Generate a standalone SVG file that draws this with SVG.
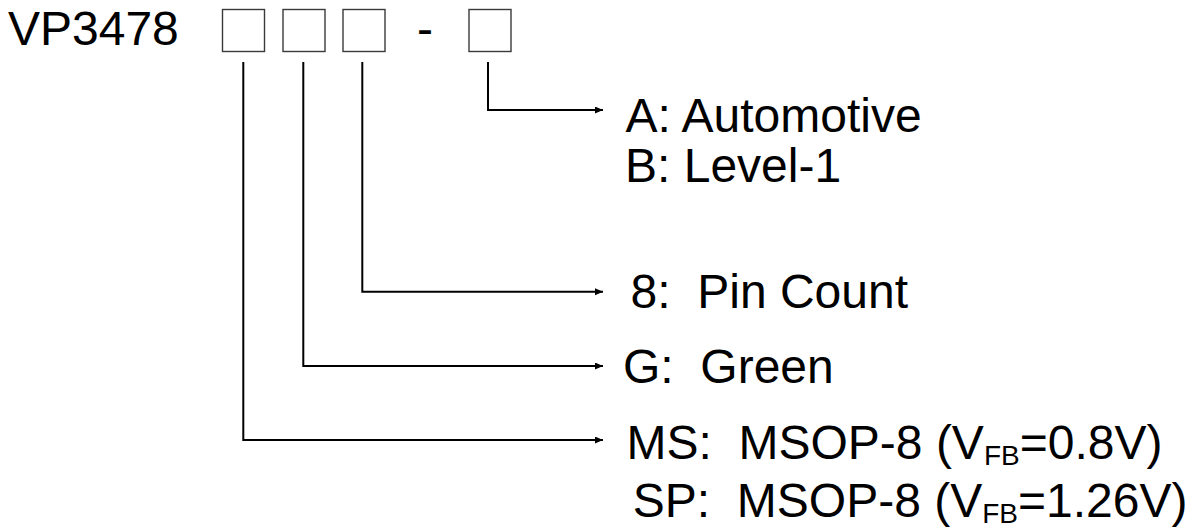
<svg xmlns="http://www.w3.org/2000/svg" width="1201" height="529" viewBox="0 0 1201 529">
<style>
  .t { font-family: "Liberation Sans", Arial, sans-serif; font-size: 48px; fill: #000; white-space: pre; }
  .sub { font-size: 28px; }
  .box { fill: #fff; stroke: #3a3a3a; stroke-width: 1.4; }
  .conn { fill: none; stroke: #000; stroke-width: 2; }
</style>
<defs>
  <marker id="arr" markerUnits="userSpaceOnUse" markerWidth="9" markerHeight="8" refX="8" refY="3.5" orient="auto">
    <path d="M0,0 L8,3.5 L0,7 z" fill="#000"/>
  </marker>
</defs>
<rect width="1201" height="529" fill="#fff"/>
<g id="part-number">
  <text class="t" x="8" y="45">VP3478</text>
  <rect class="box" x="222.5" y="9.5" width="42" height="42"/>
  <rect class="box" x="283" y="9.5" width="42" height="42"/>
  <rect class="box" x="343" y="9.5" width="42" height="42"/>
  <text class="t" x="417" y="45">-</text>
  <rect class="box" x="469" y="9.5" width="42" height="42"/>
</g>
<g id="connectors">
  <path class="conn" d="M488,62 V110 H603" marker-end="url(#arr)"/>
  <path class="conn" d="M362.3,62 V291.7 H603" marker-end="url(#arr)"/>
  <path class="conn" d="M303.3,62 V366 H603" marker-end="url(#arr)"/>
  <path class="conn" d="M243.3,62 V440 H603" marker-end="url(#arr)"/>
</g>
<g id="grade">
  <text class="t" x="625.5" y="131.7">A: Automotive</text>
  <text class="t" x="625" y="182.3">B: Level-1</text>
</g>
<g id="pincount">
  <text class="t" x="630.5" y="308.3">8:  Pin Count</text>
</g>
<g id="green">
  <text class="t" x="623" y="383">G:  Green</text>
</g>
<g id="package">
  <text class="t" x="626.5" y="459.3">MS:  MSOP-8 (V<tspan class="sub" dy="6">FB</tspan><tspan dy="-6">=0.8V)</tspan></text>
  <text class="t" x="632.8" y="516.7">SP:  MSOP-8 (V<tspan class="sub" dy="6">FB</tspan><tspan dy="-6">=1.26V)</tspan></text>
</g>
</svg>
